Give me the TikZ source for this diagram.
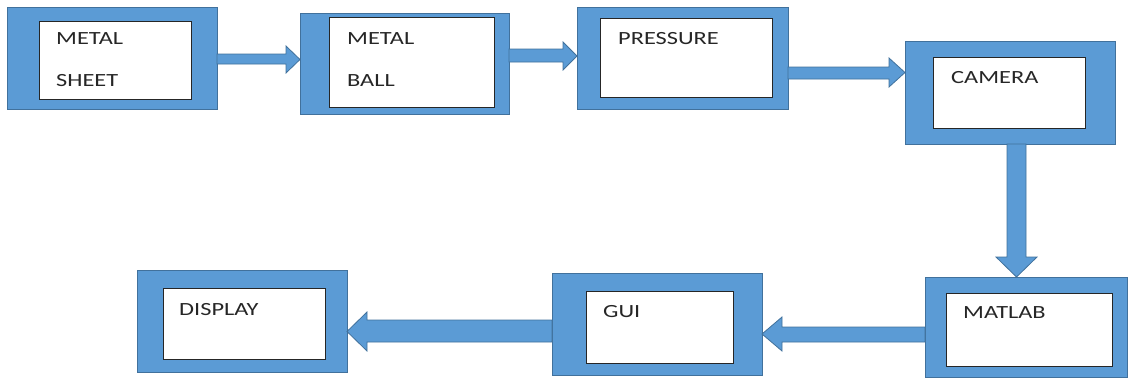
\documentclass[tikz,border=0pt]{standalone}
\usepackage{fontspec}
\setmainfont{Carlito}[FakeStretch=1.31]
\usetikzlibrary{calc}
\definecolor{boxblue}{HTML}{5B9BD5}
\definecolor{boxedge}{HTML}{41719C}
\definecolor{txt}{HTML}{262626}
\tikzset{
  x=1pt, y=-1pt,
  outerbox/.style={rectangle, fill=boxblue, draw=boxedge, line width=0.9pt, outer sep=0pt, inner sep=0pt},
  innerbox/.style={rectangle, fill=white, draw=black!85, line width=1pt, outer sep=0pt, inner sep=0pt},
  lbl/.style={anchor=west, inner sep=0pt, text=txt, font=\fontsize{18.6}{22}\selectfont},
  fatarrow/.style={fill=boxblue, draw=boxedge, line width=0.8pt, line join=miter}
}
\begin{document}
\begin{tikzpicture}
\useasboundingbox (0,0) rectangle (1130,378);
% outer boxes
\node[outerbox, minimum width=210pt, minimum height=102pt] (b1) at (112,58) {};
\node[outerbox, minimum width=209pt, minimum height=101pt] (b2) at (404.5,63.5) {};
\node[outerbox, minimum width=211pt, minimum height=102pt] (b3) at (682.5,58) {};
\node[outerbox, minimum width=210pt, minimum height=103pt] (b4) at (1010,92.5) {};
\node[outerbox, minimum width=202pt, minimum height=100pt] (b5) at (1026,327) {};
\node[outerbox, minimum width=210pt, minimum height=102pt] (b6) at (657,324) {};
\node[outerbox, minimum width=210pt, minimum height=102pt] (b7) at (242,321) {};
% inner boxes
\node[innerbox, minimum width=152pt, minimum height=78pt] (i1) at (115,60) {};
\node[innerbox, minimum width=165pt, minimum height=90pt] (i2) at (411.5,62) {};
\node[innerbox, minimum width=172pt, minimum height=79pt] (i3) at (686,57.5) {};
\node[innerbox, minimum width=152pt, minimum height=71pt] (i4) at (1009,92.5) {};
\node[innerbox, minimum width=166pt, minimum height=73pt] (i5) at (1029,329.5) {};
\node[innerbox, minimum width=147pt, minimum height=72pt] (i6) at (659.5,327) {};
\node[innerbox, minimum width=162pt, minimum height=71pt] (i7) at (244,323.5) {};
% labels
\node[lbl] (t1a) at (56,39) {METAL};
\node[lbl] (t1b) at (56,81) {SHEET};
\node[lbl] (t2a) at (347,39) {METAL};
\node[lbl] (t2b) at (347,81) {BALL};
\node[lbl] (t3) at (618,39) {PRESSURE};
\node[lbl] (t4) at (951,78) {CAMERA};
\node[lbl] (t5) at (963,313) {MATLAB};
\node[lbl] (t6) at (603,312) {GUI};
\node[lbl] (t7) at (179,310) {DISPLAY};
% connectors
\path[fatarrow] (b1.east |- 0,54) -- (286,54) -- (286,46) -- (b2.west |- 0,59.5)
  -- (286,73) -- (286,64) -- (b1.east |- 0,64) -- cycle;
\path[fatarrow] (b2.east |- 0,49) -- (563,49) -- (563,42) -- (b3.west |- 0,56)
  -- (563,70) -- (563,62) -- (b2.east |- 0,62) -- cycle;
\path[fatarrow] (b3.east |- 0,67) -- (889,67) -- (889,58) -- (b4.west |- 0,72.5)
  -- (889,87) -- (889,79) -- (b3.east |- 0,79) -- cycle;
\path[fatarrow] (b4.south -| 1007,0) -- (1007,257) -- (996,257) -- (b5.north -| 1016.5,0)
  -- (1037,257) -- (1026,257) -- (b4.south -| 1026,0) -- cycle;
\path[fatarrow] (b5.west |- 0,327) -- (782,327) -- (782,317) -- (b6.east |- 0,334)
  -- (782,351) -- (782,342) -- (b5.west |- 0,342) -- cycle;
\path[fatarrow] (b6.west |- 0,320) -- (367,320) -- (367,312) -- (b7.east |- 0,331.5)
  -- (367,351) -- (367,342) -- (b6.west |- 0,342) -- cycle;
\end{tikzpicture}
\end{document}
